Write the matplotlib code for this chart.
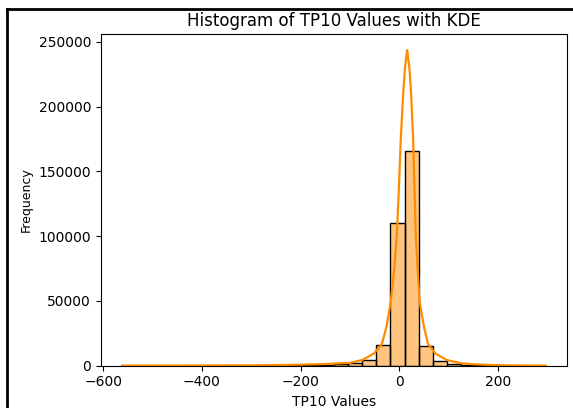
import numpy as np
import matplotlib
matplotlib.use("Agg")
from matplotlib import pyplot as plt
from matplotlib.lines import Line2D

# histogram: 30 bins between the min and max TP10 value
range_lo = -562
range_hi = 297
counts = [20, 20, 30, 30, 40, 50, 60, 80, 100, 130,
          180, 250, 350, 500, 700, 1300, 2000, 4400, 15700, 110500,
          166000, 15400, 3600, 1600, 700, 300, 200, 100, 60, 30]

# KDE curve (scaled to counts)
kde_x = [-562, -500, -400, -300, -250, -200, -150, -100, -75, -51,
         -35, -26, -17, -10, -5, -1, 3, 8, 11.5, 16,
         20.5, 24, 28, 31, 33.5, 37, 41, 50, 58, 73,
         96, 125, 150, 200, 250, 297]
kde_y = [50, 80, 150, 300, 500, 800, 1300, 2200, 4400, 9500,
         17000, 30000, 50000, 76000, 100000, 135000, 175000, 210000, 230000, 243600,
         230000, 210000, 175000, 135000, 100000, 76000, 50000, 30000, 17000, 9500,
         4400, 1900, 1100, 400, 150, 50]

edges = np.linspace(range_lo, range_hi, len(counts) + 1)
centers = (edges[:-1] + edges[1:]) / 2

fig = plt.figure(figsize=(5.73, 4.08), dpi=100)
ax = fig.add_axes([0.176, 0.1037, 0.8135, 0.8123])

ax.hist(centers, bins=edges, weights=counts, color="darkorange", alpha=0.5)
ax.hist(centers, bins=edges, weights=counts, histtype="bar", fill=False,
        edgecolor="black", linewidth=1)
ax.plot(kde_x, kde_y, color="darkorange", linewidth=1.6)

ax.set_ylim(0, max(kde_y) * 1.05)
ax.set_title("Histogram of TP10 Values with KDE")
ax.set_xlabel("TP10 Values")
ax.set_ylabel("Frequency", fontsize=9)

# frame of the screenshot (top and left only)
fig.add_artist(Line2D([0.013, 1.0], [0.979, 0.979], color="black", linewidth=2,
                      transform=fig.transFigure))
fig.add_artist(Line2D([0.013, 0.013], [0.0, 0.979], color="black", linewidth=2,
                      transform=fig.transFigure))

fig.savefig("out.png", dpi=100)
